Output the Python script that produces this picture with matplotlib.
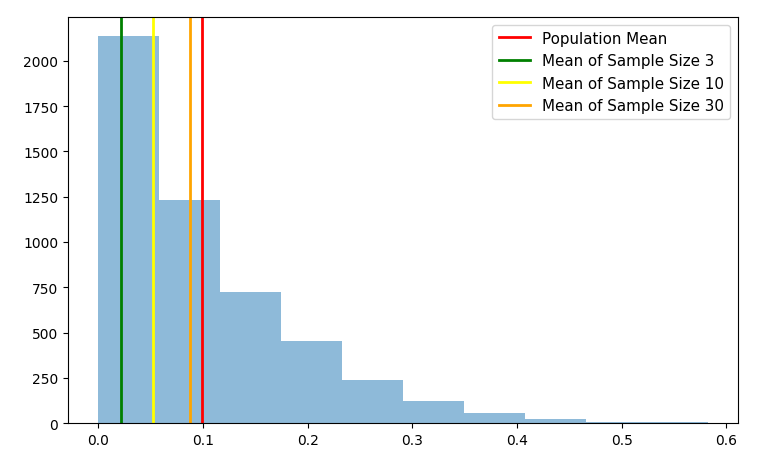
import numpy as np
import matplotlib
matplotlib.use('Agg')
import matplotlib.pyplot as plt

# histogram bins and counts
bin_edges = np.linspace(0, 0.582, 11)
counts = [2135, 1232, 722, 452, 237, 121, 55, 22, 7, 4]

# means of the different samples
population_mean = 0.099
mean_sample_3 = 0.022
mean_sample_10 = 0.052
mean_sample_30 = 0.0875

fig, ax = plt.subplots(figsize=(7.72, 4.6), dpi=100)
fig.subplots_adjust(left=0.088, right=0.956, top=0.961, bottom=0.078)

ax.hist(bin_edges[:-1], bins=bin_edges, weights=counts, alpha=0.5)

ax.axvline(population_mean, color='red', lw=2, label='Population Mean')
ax.axvline(mean_sample_3, color='green', lw=2, label='Mean of Sample Size 3')
ax.axvline(mean_sample_10, color='yellow', lw=2, label='Mean of Sample Size 10')
ax.axvline(mean_sample_30, color='orange', lw=2, label='Mean of Sample Size 30')

ax.legend(loc='upper right', fontsize=10.9, handlelength=2.1)
plt.savefig('out.png')
